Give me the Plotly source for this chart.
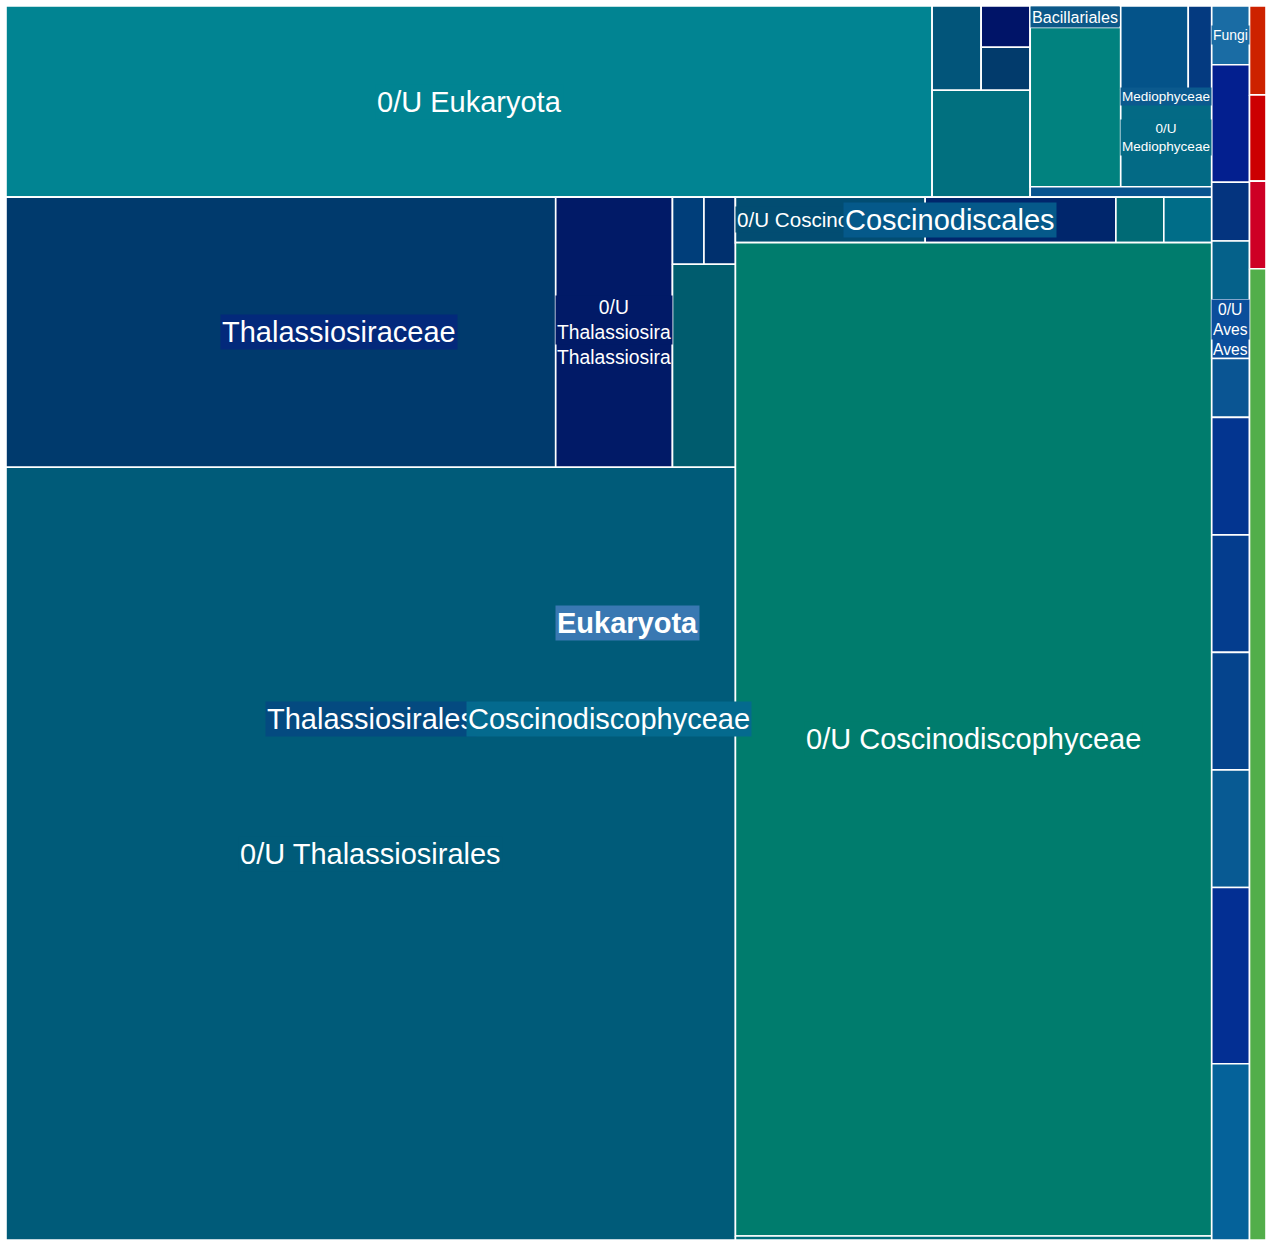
import plotly.graph_objects as go

# ------------------------------------------------------------------ data
# hierarchy (node id, displayed label, parent id); leaf values in reads,
# branch values are the sums of their children.
ids = [
    "Eukaryota", "root/1", "root/2", "root/3", "root/4",
    "Eukaryota/g1", "Eukaryota/g2",
    "0/U Eukaryota", "g1/A", "g1/B", "Coscinodiscophyceae",
    "A/1", "A/S", "A/S/1", "A/S/2", "A/2",
    "B/col", "Bacillariales", "B/col/2", "Mediophyceae", "Med/1", "Med/2", "0/U Mediophyceae", "B/3",
    "Thalassiosirales", "Coscinodiscales", "Cosc/x", "0/U Coscinodiscophyceae", "Cosc/thin",
    "Thalassiosiraceae", "Thal/f2", "0/U Thalassiosirales",
    "Tc/1", "Thalassiosira", "0/U Thalassiosira",
    "f2/1", "f2/2", "f2/3",
    "0/U Coscinodiscales", "Cd/2", "Cd/3",
    "Fungi", "g2/2", "g2/3", "g2/4", "Aves", "0/U Aves",
    "g2/6", "g2/7", "g2/8", "g2/9", "g2/10", "g2/11", "g2/12",
]
labels = [
    "Eukaryota", "", "", "", "",
    "", "",
    "0/U Eukaryota", "", "", "Coscinodiscophyceae",
    "", "", "", "", "",
    "", "Bacillariales", "", "Mediophyceae", "", "", "0/U Mediophyceae", "",
    "Thalassiosirales", "Coscinodiscales", "", "0/U Coscinodiscophyceae", "",
    "Thalassiosiraceae", "", "0/U Thalassiosirales",
    "", "Thalassiosira", "0/U Thalassiosira",
    "", "", "",
    "0/U Coscinodiscales", "", "",
    "Fungi", "", "", "", "Aves", "0/U Aves",
    "", "", "", "", "", "", "",
]
parents = [
    "", "", "", "", "",
    "Eukaryota", "Eukaryota",
    "Eukaryota/g1", "Eukaryota/g1", "Eukaryota/g1", "Eukaryota/g1",
    "g1/A", "g1/A", "A/S", "A/S", "g1/A",
    "g1/B", "B/col", "B/col", "g1/B", "Mediophyceae", "Mediophyceae", "Mediophyceae", "g1/B",
    "Coscinodiscophyceae", "Coscinodiscophyceae", "Coscinodiscophyceae", "Coscinodiscophyceae", "Coscinodiscophyceae",
    "Thalassiosirales", "Thalassiosirales", "Thalassiosirales",
    "Thalassiosiraceae", "Thalassiosiraceae", "Thalassiosira",
    "Thal/f2", "Thal/f2", "Thal/f2",
    "Coscinodiscales", "Coscinodiscales", "Coscinodiscales",
    "Eukaryota/g2", "Eukaryota/g2", "Eukaryota/g2", "Eukaryota/g2", "Eukaryota/g2", "Aves",
    "Eukaryota/g2", "Eukaryota/g2", "Eukaryota/g2", "Eukaryota/g2", "Eukaryota/g2", "Eukaryota/g2", "Eukaryota/g2",
]
values = [
    None, 66, 64, 65, 721,
    None, None,
    7980, None, None, None,
    186, None, 91, 95, 473,
    None, 87, 650, None, 253, 88, 400, 86,
    None, None, 98, 21313, 86,
    None, None, 25394,
    6684, None, 1420,
    95, 95, 575,
    388, 390, 98,
    100, 200, 100, 100, None, 100,
    100, 200, 200, 200, 200, 300, 300,
]
colors = [
    "#3978B2", "#CD2200", "#CC0002", "#CE0025", "#52AE4A",
    "#00617A", "#0B4D9A",
    "#018492", "#02557A", "#08538F", "#046A8E",
    "#02557A", "#001468", "#001468", "#023B6C", "#01707F",
    "#0B5888", "#0B5888", "#01827F", "#0B5A8E", "#045389", "#043A80", "#036A85", "#08538F",
    "#044A80", "#05598A", "#006D88", "#007C6D", "#006E7A",
    "#03297B", "#005C6E", "#005B79",
    "#003A6D", "#011A67", "#011A67",
    "#003E7A", "#00306E", "#005C6E",
    "#024D72", "#00266C", "#006A75",
    "#1A6CA4", "#031F8F", "#04347F", "#05618A", "#0B4E9B", "#0B4E9B",
    "#0A5593", "#033590", "#043D8E", "#05448D", "#085A93", "#032F93", "#05629A",
]

# ------------------------------------------------------------------ layout
W, H = 1260, 1234          # plot area in pixels (layout space)
MAX_FONT = 29
PHI = (1 + 5 ** 0.5) / 2

idx = {k: n for n, k in enumerate(ids)}
children = {}
for k, p in zip(ids, parents):
    children.setdefault(p, []).append(k)

total = {}


def node_total(k):
    if k in children:
        total[k] = sum(node_total(c) for c in children[k])
    else:
        total[k] = values[idx[k]]
    return total[k]


for r in children[""]:
    node_total(r)


def squarify(items, x0, y0, x1, y1, ratio=PHI):
    """d3-style squarified tiling, children kept in data order."""
    out = {}
    value = sum(v for _, v in items)
    i0, n = 0, len(items)
    while i0 < n:
        dx, dy = x1 - x0, y1 - y0
        i1 = i0
        s = items[i1][1]
        i1 += 1
        vmin = vmax = s
        alpha = max(dy / dx, dx / dy) / (value * ratio)
        beta = s * s * alpha
        best = max(vmax / beta, beta / vmin)
        while i1 < n:
            nv = items[i1][1]
            s += nv
            vmin, vmax = min(vmin, nv), max(vmax, nv)
            beta = s * s * alpha
            r = max(vmax / beta, beta / vmin)
            if r > best:
                s -= nv
                break
            best = r
            i1 += 1
        row = items[i0:i1]
        if dx < dy:                       # horizontal row at the top
            yb = y0 + dy * s / value
            xx = x0
            for k, v in row:
                w = (x1 - x0) * v / s
                out[k] = (xx, y0, xx + w, yb)
                xx += w
            y0 = yb
        else:                             # vertical column at the left
            xb = x0 + dx * s / value
            yy = y0
            for k, v in row:
                h = (y1 - y0) * v / s
                out[k] = (x0, yy, xb, yy + h)
                yy += h
            x0 = xb
        value -= s
        i0 = i1
    return out


rects, depth, order = {}, {}, []


def lay(pk, box, d):
    kids = [(c, total[c]) for c in children[pk]]
    sub = squarify(kids, *box)
    for c, _ in kids:
        rects[c] = sub[c]
        depth[c] = d
        order.append(c)
        if c in children:
            lay(c, sub[c], d + 1)


lay("", (0, 0, W, H), 0)

# ------------------------------------------------------------------ label fitting
_up = dict(zip("ABCDEFGHIJKLMNOPQRSTUVWXYZ",
               [667, 667, 722, 722, 667, 611, 778, 722, 278, 500, 667, 556, 833,
                722, 778, 667, 778, 722, 667, 611, 722, 667, 944, 667, 667, 611]))
_lo = dict(zip("abcdefghijklmnopqrstuvwxyz",
               [556, 556, 500, 556, 556, 278, 556, 556, 222, 222, 500, 222, 833,
                556, 556, 556, 556, 333, 500, 278, 556, 500, 722, 500, 500, 500]))
AW = {" ": 278, "/": 278, **{d: 556 for d in "0123456789"}, **_up, **_lo}


def em(s, bold):
    return sum(AW.get(c, 556) for c in s) / 1000 * (1.08 if bold else 1.0)


def fit(text, w, h, bold):
    words = text.split(" ")
    opts = [[text]] + [[" ".join(words[:k]), " ".join(words[k:])] for k in range(1, len(words))]
    best = None
    for lines in opts:
        fs = min(MAX_FONT, (w - 3) / max(em(l, bold) for l in lines), (h - 2) / (1.2 * len(lines)))
        if best is None or fs > best[0] + 0.01:
            best = (fs, lines)
    return best


lab = {}
for k in order:
    text = labels[idx[k]]
    if not text:
        continue
    x0, y0, x1, y1 = rects[k]
    bold = depth[k] == 0
    fs, lines = fit(text, x1 - x0, y1 - y0, bold)
    if fs < 6:
        continue
    lab[k] = dict(fs=fs, lines=lines, bold=bold, shift=0.0, bg=True)

# a branch holding a single child shares its rectangle: stack the two labels
LINE = 1.3
for k in lab:
    kids = children.get(k, [])
    if len(kids) == 1 and kids[0] in lab:
        c = kids[0]
        lab[c]["shift"] += 0.5 * LINE * lab[k]["fs"] * len(lab[k]["lines"])
        lab[k]["shift"] -= 0.5 * LINE * lab[c]["fs"] * len(lab[c]["lines"])
        lab[k]["bg"] = False

# ------------------------------------------------------------------ figure
fig = go.Figure()
for k in order:
    x0, y0, x1, y1 = rects[k]
    name = labels[idx[k]] or k
    fig.add_trace(go.Scatter(
        x=[x0, x1, x1, x0, x0], y=[y0, y0, y1, y1, y0],
        mode="lines", fill="toself", fillcolor=colors[idx[k]],
        line=dict(color="white", width=1.6),
        hoveron="fills", hoverinfo="text",
        text=f"{name}: {total[k]}", showlegend=False,
    ))

annotations = []
for k in sorted(lab, key=lambda q: -depth[q]):
    x0, y0, x1, y1 = rects[k]
    L = lab[k]
    txt = "<br>".join(L["lines"])
    if L["bold"]:
        txt = f"<b>{txt}</b>"
    annotations.append(dict(
        x=(x0 + x1) / 2, y=(y0 + y1) / 2, xref="x", yref="y",
        text=txt, showarrow=False, yshift=L["shift"],
        font=dict(size=L["fs"], color="white", family="Liberation Sans, Arial, sans-serif"),
        bgcolor=colors[idx[k]] if L["bg"] else "rgba(0,0,0,0)",
        borderpad=1, align="center",
    ))

fig.update_layout(
    width=1266, height=1240,
    margin=dict(l=6, r=0, t=6, b=0),
    paper_bgcolor="white", plot_bgcolor="white",
    xaxis=dict(range=[0, W], visible=False, fixedrange=True),
    yaxis=dict(range=[H, 0], visible=False, fixedrange=True),
    annotations=annotations,
    hovermode="closest",
    showlegend=False,
)

fig.write_html(
    "out.html",
    config={"displayModeBar": False},
    post_script="document.body.style.margin='0px';document.body.style.overflow='hidden';",
)
